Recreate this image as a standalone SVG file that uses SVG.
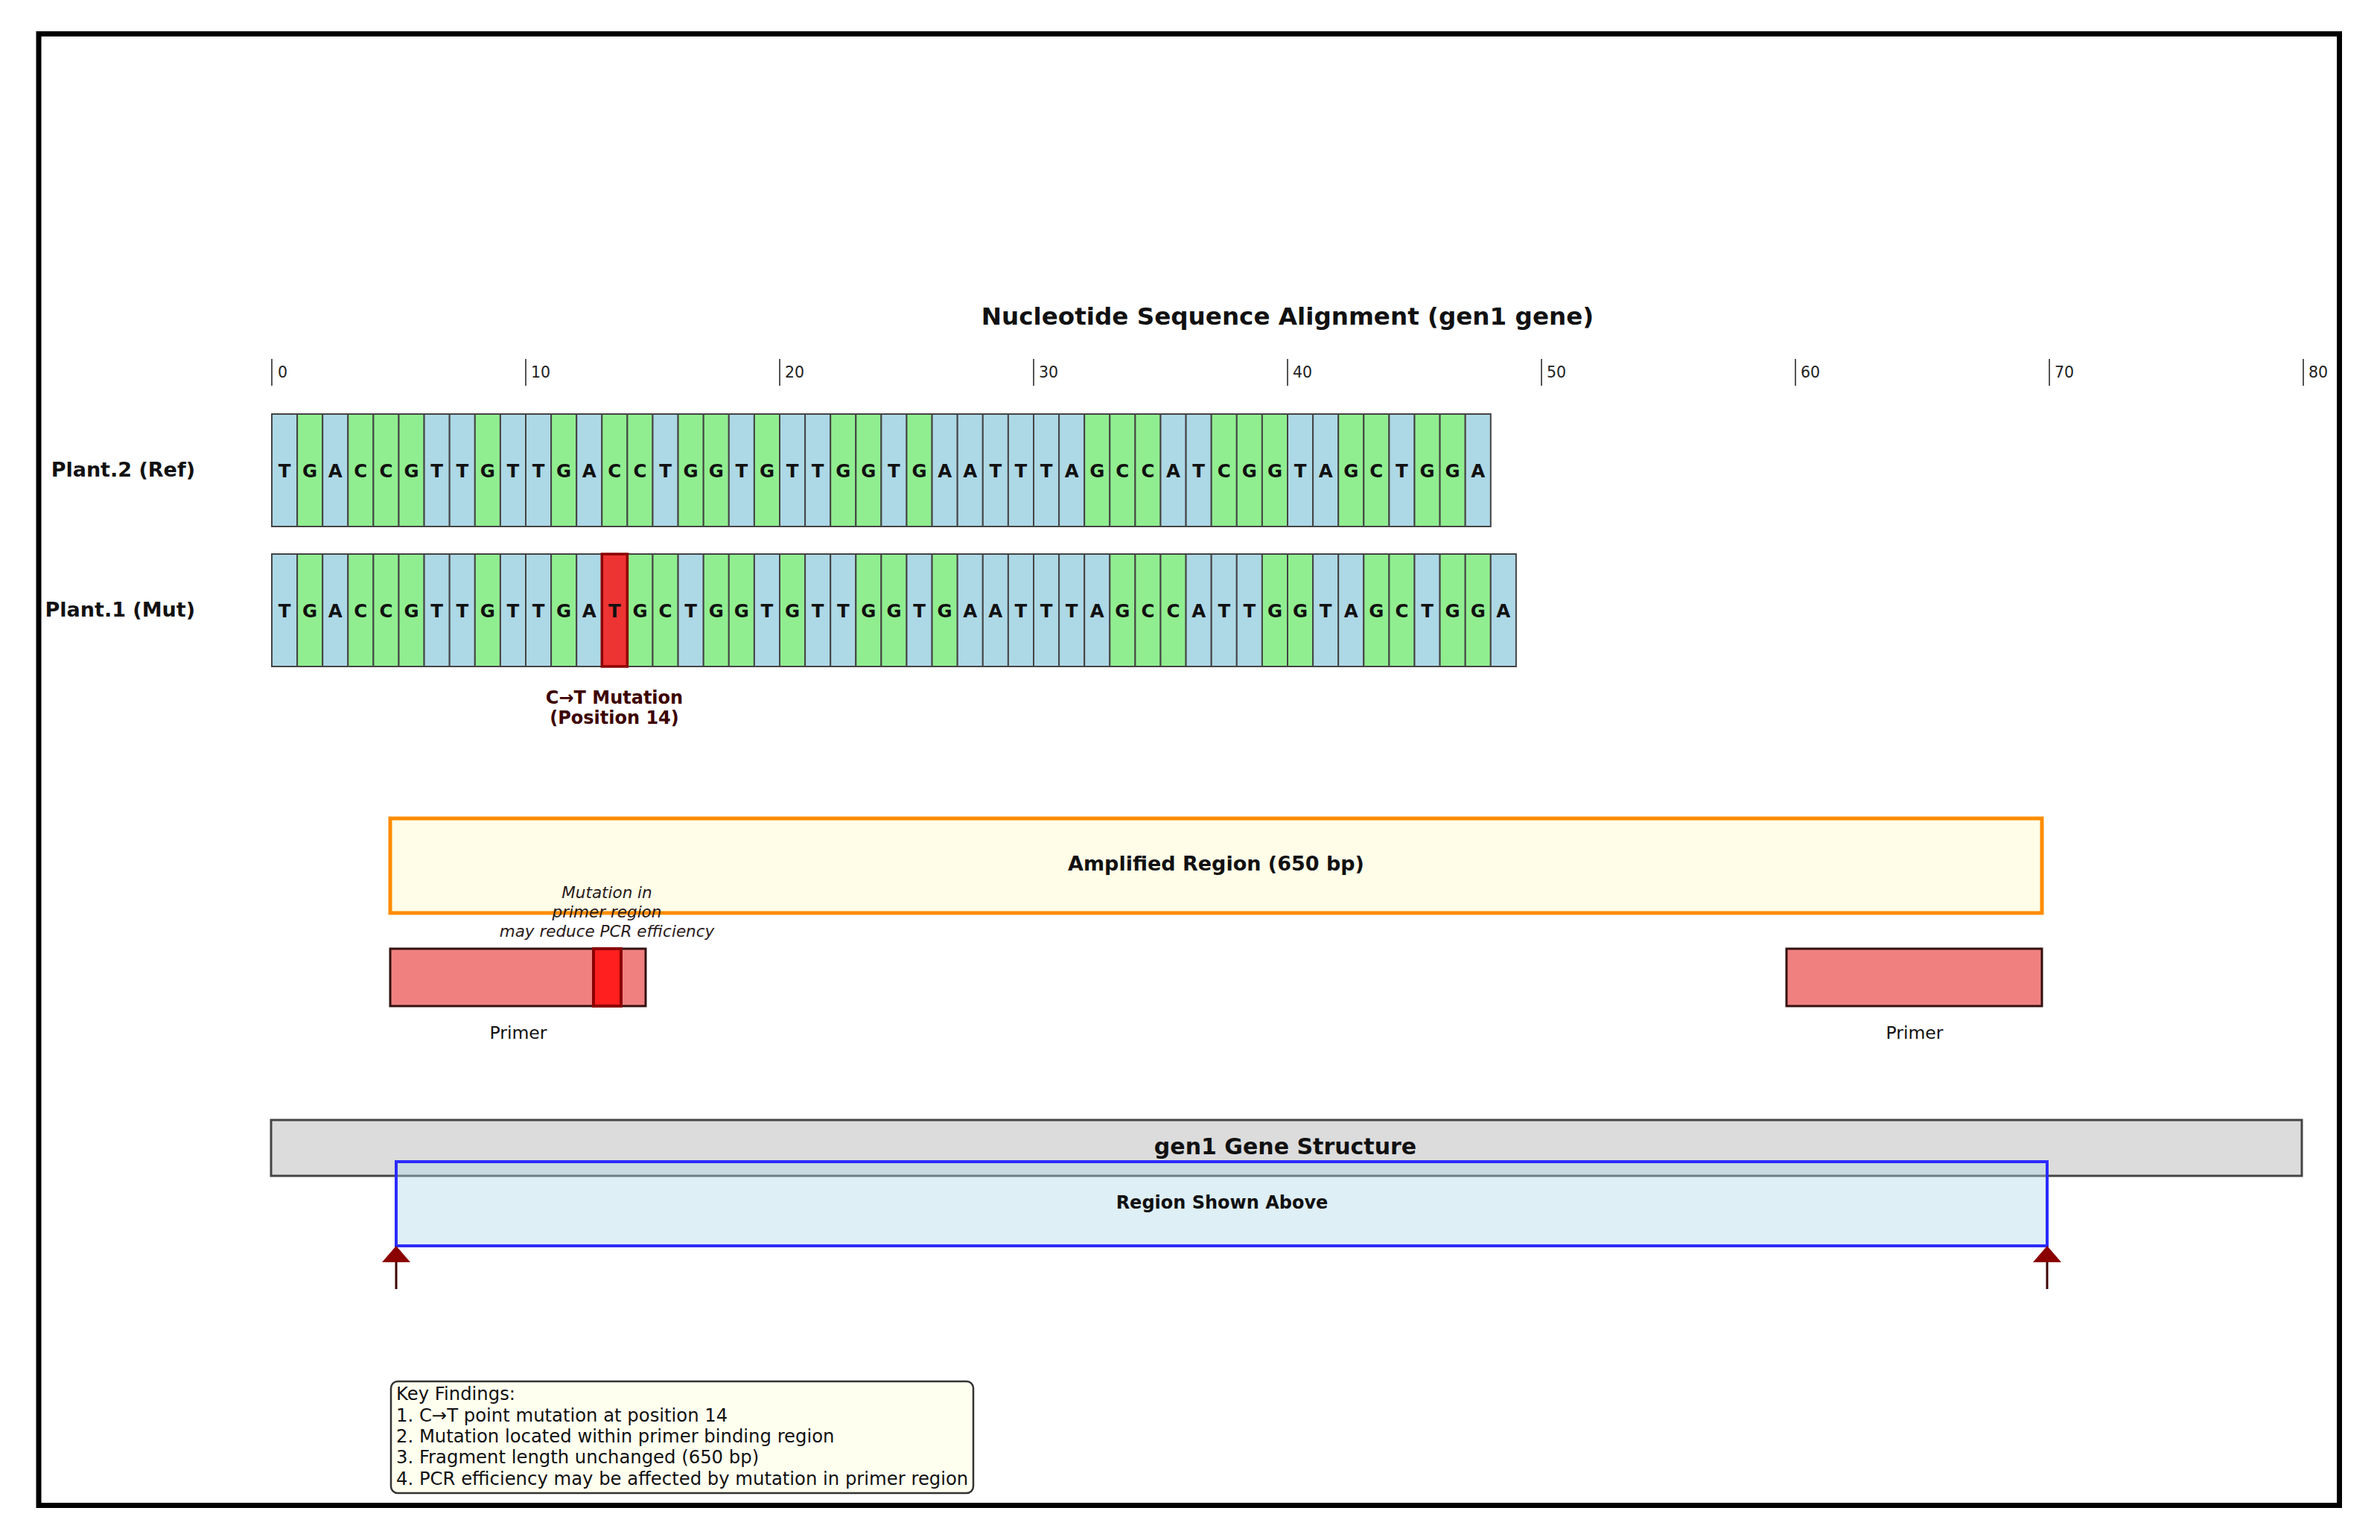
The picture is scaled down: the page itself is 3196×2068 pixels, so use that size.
<svg xmlns="http://www.w3.org/2000/svg" width="3196" height="2068" viewBox="0 0 3196 2068">
<defs>
<style>
text{font-family:"DejaVu Sans","Liberation Sans",sans-serif;fill:#111}
.bd{font-weight:bold}
.b{fill:#add8e6;stroke:#444;stroke-width:2}
.g{fill:#90ee90;stroke:#444;stroke-width:2}
.nt{font-weight:bold;font-size:24.5px;text-anchor:middle}
.tk{stroke:#555;stroke-width:2}
.tl{font-size:20.5px;fill:#222}
.lbl{font-weight:bold;font-size:27px;text-anchor:end}
.primer{fill:#f08080;stroke:#331111;stroke-width:3}
.plab{font-size:23.5px;text-anchor:middle}
.kf{font-size:24.3px}
</style>
<marker id="ah" viewBox="0 0 22 38" refX="0" refY="19" markerWidth="22" markerHeight="38" markerUnits="userSpaceOnUse" orient="auto"><path d="M0,0 L22,19 L0,38 z" fill="#8b0000"/></marker>
</defs>
<rect width="3196" height="2068" fill="#fff"/>
<rect x="52" y="45.5" width="3089.5" height="1976" fill="none" stroke="#000" stroke-width="7"/>

<text x="1729" y="436" class="bd" font-size="32.6" text-anchor="middle">Nucleotide Sequence Alignment (gen1 gene)</text>

<g id="axis">
<line class="tk" x1="365" y1="482" x2="365" y2="518"/><text class="tl" x="373" y="507">0</text>
<line class="tk" x1="706" y1="482" x2="706" y2="518"/><text class="tl" x="713" y="507">10</text>
<line class="tk" x1="1047" y1="482" x2="1047" y2="518"/><text class="tl" x="1054" y="507">20</text>
<line class="tk" x1="1388" y1="482" x2="1388" y2="518"/><text class="tl" x="1395" y="507">30</text>
<line class="tk" x1="1729" y1="482" x2="1729" y2="518"/><text class="tl" x="1736" y="507">40</text>
<line class="tk" x1="2070" y1="482" x2="2070" y2="518"/><text class="tl" x="2077" y="507">50</text>
<line class="tk" x1="2411" y1="482" x2="2411" y2="518"/><text class="tl" x="2418" y="507">60</text>
<line class="tk" x1="2752" y1="482" x2="2752" y2="518"/><text class="tl" x="2759" y="507">70</text>
<line class="tk" x1="3093" y1="482" x2="3093" y2="518"/><text class="tl" x="3100" y="507">80</text>
</g>

<g id="label-ref"><text class="lbl" x="262" y="640">Plant.2 (Ref)</text></g>
<g id="label-mut"><text class="lbl" x="262" y="828">Plant.1 (Mut)</text></g>

<g id="seq-ref" transform="translate(0,556)">
<rect class="b" x="365" width="34.1" height="151"/><text class="nt" x="382.05" y="85">T</text>
<rect class="g" x="399.1" width="34.1" height="151"/><text class="nt" x="416.15" y="85">G</text>
<rect class="b" x="433.2" width="34.1" height="151"/><text class="nt" x="450.25" y="85">A</text>
<rect class="g" x="467.3" width="34.1" height="151"/><text class="nt" x="484.35" y="85">C</text>
<rect class="g" x="501.4" width="34.1" height="151"/><text class="nt" x="518.45" y="85">C</text>
<rect class="g" x="535.5" width="34.1" height="151"/><text class="nt" x="552.55" y="85">G</text>
<rect class="b" x="569.6" width="34.1" height="151"/><text class="nt" x="586.65" y="85">T</text>
<rect class="b" x="603.7" width="34.1" height="151"/><text class="nt" x="620.75" y="85">T</text>
<rect class="g" x="637.8" width="34.1" height="151"/><text class="nt" x="654.85" y="85">G</text>
<rect class="b" x="671.9" width="34.1" height="151"/><text class="nt" x="688.95" y="85">T</text>
<rect class="b" x="706" width="34.1" height="151"/><text class="nt" x="723.05" y="85">T</text>
<rect class="g" x="740.1" width="34.1" height="151"/><text class="nt" x="757.15" y="85">G</text>
<rect class="b" x="774.2" width="34.1" height="151"/><text class="nt" x="791.25" y="85">A</text>
<rect class="g" x="808.3" width="34.1" height="151"/><text class="nt" x="825.35" y="85">C</text>
<rect class="g" x="842.4" width="34.1" height="151"/><text class="nt" x="859.45" y="85">C</text>
<rect class="b" x="876.5" width="34.1" height="151"/><text class="nt" x="893.55" y="85">T</text>
<rect class="g" x="910.6" width="34.1" height="151"/><text class="nt" x="927.65" y="85">G</text>
<rect class="g" x="944.7" width="34.1" height="151"/><text class="nt" x="961.75" y="85">G</text>
<rect class="b" x="978.8" width="34.1" height="151"/><text class="nt" x="995.85" y="85">T</text>
<rect class="g" x="1012.9" width="34.1" height="151"/><text class="nt" x="1029.95" y="85">G</text>
<rect class="b" x="1047" width="34.1" height="151"/><text class="nt" x="1064.05" y="85">T</text>
<rect class="b" x="1081.1" width="34.1" height="151"/><text class="nt" x="1098.15" y="85">T</text>
<rect class="g" x="1115.2" width="34.1" height="151"/><text class="nt" x="1132.25" y="85">G</text>
<rect class="g" x="1149.3" width="34.1" height="151"/><text class="nt" x="1166.35" y="85">G</text>
<rect class="b" x="1183.4" width="34.1" height="151"/><text class="nt" x="1200.45" y="85">T</text>
<rect class="g" x="1217.5" width="34.1" height="151"/><text class="nt" x="1234.55" y="85">G</text>
<rect class="b" x="1251.6" width="34.1" height="151"/><text class="nt" x="1268.65" y="85">A</text>
<rect class="b" x="1285.7" width="34.1" height="151"/><text class="nt" x="1302.75" y="85">A</text>
<rect class="b" x="1319.8" width="34.1" height="151"/><text class="nt" x="1336.85" y="85">T</text>
<rect class="b" x="1353.9" width="34.1" height="151"/><text class="nt" x="1370.95" y="85">T</text>
<rect class="b" x="1388" width="34.1" height="151"/><text class="nt" x="1405.05" y="85">T</text>
<rect class="b" x="1422.1" width="34.1" height="151"/><text class="nt" x="1439.15" y="85">A</text>
<rect class="g" x="1456.2" width="34.1" height="151"/><text class="nt" x="1473.25" y="85">G</text>
<rect class="g" x="1490.3" width="34.1" height="151"/><text class="nt" x="1507.35" y="85">C</text>
<rect class="g" x="1524.4" width="34.1" height="151"/><text class="nt" x="1541.45" y="85">C</text>
<rect class="b" x="1558.5" width="34.1" height="151"/><text class="nt" x="1575.55" y="85">A</text>
<rect class="b" x="1592.6" width="34.1" height="151"/><text class="nt" x="1609.65" y="85">T</text>
<rect class="g" x="1626.7" width="34.1" height="151"/><text class="nt" x="1643.75" y="85">C</text>
<rect class="g" x="1660.8" width="34.1" height="151"/><text class="nt" x="1677.85" y="85">G</text>
<rect class="g" x="1694.9" width="34.1" height="151"/><text class="nt" x="1711.95" y="85">G</text>
<rect class="b" x="1729" width="34.1" height="151"/><text class="nt" x="1746.05" y="85">T</text>
<rect class="b" x="1763.1" width="34.1" height="151"/><text class="nt" x="1780.15" y="85">A</text>
<rect class="g" x="1797.2" width="34.1" height="151"/><text class="nt" x="1814.25" y="85">G</text>
<rect class="g" x="1831.3" width="34.1" height="151"/><text class="nt" x="1848.35" y="85">C</text>
<rect class="b" x="1865.4" width="34.1" height="151"/><text class="nt" x="1882.45" y="85">T</text>
<rect class="g" x="1899.5" width="34.1" height="151"/><text class="nt" x="1916.55" y="85">G</text>
<rect class="g" x="1933.6" width="34.1" height="151"/><text class="nt" x="1950.65" y="85">G</text>
<rect class="b" x="1967.7" width="34.1" height="151"/><text class="nt" x="1984.75" y="85">A</text>
</g>

<g id="seq-mut" transform="translate(0,744)">
<rect class="b" x="365" width="34.1" height="151"/><text class="nt" x="382.05" y="85">T</text>
<rect class="g" x="399.1" width="34.1" height="151"/><text class="nt" x="416.15" y="85">G</text>
<rect class="b" x="433.2" width="34.1" height="151"/><text class="nt" x="450.25" y="85">A</text>
<rect class="g" x="467.3" width="34.1" height="151"/><text class="nt" x="484.35" y="85">C</text>
<rect class="g" x="501.4" width="34.1" height="151"/><text class="nt" x="518.45" y="85">C</text>
<rect class="g" x="535.5" width="34.1" height="151"/><text class="nt" x="552.55" y="85">G</text>
<rect class="b" x="569.6" width="34.1" height="151"/><text class="nt" x="586.65" y="85">T</text>
<rect class="b" x="603.7" width="34.1" height="151"/><text class="nt" x="620.75" y="85">T</text>
<rect class="g" x="637.8" width="34.1" height="151"/><text class="nt" x="654.85" y="85">G</text>
<rect class="b" x="671.9" width="34.1" height="151"/><text class="nt" x="688.95" y="85">T</text>
<rect class="b" x="706" width="34.1" height="151"/><text class="nt" x="723.05" y="85">T</text>
<rect class="g" x="740.1" width="34.1" height="151"/><text class="nt" x="757.15" y="85">G</text>
<rect class="b" x="774.2" width="34.1" height="151"/><text class="nt" x="791.25" y="85">A</text>
<rect class="g" x="842.4" width="34.1" height="151"/><text class="nt" x="859.45" y="85">G</text>
<rect class="g" x="876.5" width="34.1" height="151"/><text class="nt" x="893.55" y="85">C</text>
<rect class="b" x="910.6" width="34.1" height="151"/><text class="nt" x="927.65" y="85">T</text>
<rect class="g" x="944.7" width="34.1" height="151"/><text class="nt" x="961.75" y="85">G</text>
<rect class="g" x="978.8" width="34.1" height="151"/><text class="nt" x="995.85" y="85">G</text>
<rect class="b" x="1012.9" width="34.1" height="151"/><text class="nt" x="1029.95" y="85">T</text>
<rect class="g" x="1047" width="34.1" height="151"/><text class="nt" x="1064.05" y="85">G</text>
<rect class="b" x="1081.1" width="34.1" height="151"/><text class="nt" x="1098.15" y="85">T</text>
<rect class="b" x="1115.2" width="34.1" height="151"/><text class="nt" x="1132.25" y="85">T</text>
<rect class="g" x="1149.3" width="34.1" height="151"/><text class="nt" x="1166.35" y="85">G</text>
<rect class="g" x="1183.4" width="34.1" height="151"/><text class="nt" x="1200.45" y="85">G</text>
<rect class="b" x="1217.5" width="34.1" height="151"/><text class="nt" x="1234.55" y="85">T</text>
<rect class="g" x="1251.6" width="34.1" height="151"/><text class="nt" x="1268.65" y="85">G</text>
<rect class="b" x="1285.7" width="34.1" height="151"/><text class="nt" x="1302.75" y="85">A</text>
<rect class="b" x="1319.8" width="34.1" height="151"/><text class="nt" x="1336.85" y="85">A</text>
<rect class="b" x="1353.9" width="34.1" height="151"/><text class="nt" x="1370.95" y="85">T</text>
<rect class="b" x="1388" width="34.1" height="151"/><text class="nt" x="1405.05" y="85">T</text>
<rect class="b" x="1422.1" width="34.1" height="151"/><text class="nt" x="1439.15" y="85">T</text>
<rect class="b" x="1456.2" width="34.1" height="151"/><text class="nt" x="1473.25" y="85">A</text>
<rect class="g" x="1490.3" width="34.1" height="151"/><text class="nt" x="1507.35" y="85">G</text>
<rect class="g" x="1524.4" width="34.1" height="151"/><text class="nt" x="1541.45" y="85">C</text>
<rect class="g" x="1558.5" width="34.1" height="151"/><text class="nt" x="1575.55" y="85">C</text>
<rect class="b" x="1592.6" width="34.1" height="151"/><text class="nt" x="1609.65" y="85">A</text>
<rect class="b" x="1626.7" width="34.1" height="151"/><text class="nt" x="1643.75" y="85">T</text>
<rect class="b" x="1660.8" width="34.1" height="151"/><text class="nt" x="1677.85" y="85">T</text>
<rect class="g" x="1694.9" width="34.1" height="151"/><text class="nt" x="1711.95" y="85">G</text>
<rect class="g" x="1729" width="34.1" height="151"/><text class="nt" x="1746.05" y="85">G</text>
<rect class="b" x="1763.1" width="34.1" height="151"/><text class="nt" x="1780.15" y="85">T</text>
<rect class="b" x="1797.2" width="34.1" height="151"/><text class="nt" x="1814.25" y="85">A</text>
<rect class="g" x="1831.3" width="34.1" height="151"/><text class="nt" x="1848.35" y="85">G</text>
<rect class="g" x="1865.4" width="34.1" height="151"/><text class="nt" x="1882.45" y="85">C</text>
<rect class="b" x="1899.5" width="34.1" height="151"/><text class="nt" x="1916.55" y="85">T</text>
<rect class="g" x="1933.6" width="34.1" height="151"/><text class="nt" x="1950.65" y="85">G</text>
<rect class="g" x="1967.7" width="34.1" height="151"/><text class="nt" x="1984.75" y="85">G</text>
<rect class="b" x="2001.8" width="34.1" height="151"/><text class="nt" x="2018.85" y="85">A</text>
<rect x="808.3" width="34.1" height="151" fill="#ee3333" stroke="#8b0000" stroke-width="3.5"/><text class="nt" x="825.35" y="85">T</text>
</g>

<g id="mutation-label">
<text class="bd" x="825" y="945" font-size="24" text-anchor="middle" style="fill:#3d0000">C→T Mutation</text>
<text class="bd" x="825" y="972" font-size="24" text-anchor="middle" style="fill:#3d0000">(Position 14)</text>
</g>

<g id="amplified-region">
<rect x="524" y="1099" width="2218" height="127" fill="#fffde8" stroke="#ff8c00" stroke-width="5"/>
<text class="bd" x="1633" y="1169" font-size="27" text-anchor="middle">Amplified Region (650 bp)</text>
</g>

<g id="primer-left">
<rect class="primer" x="524" y="1274" width="343" height="77"/>
<rect x="797" y="1274" width="37" height="77" fill="#ff1f1f" stroke="#8b0000" stroke-width="4"/>
<text class="plab" x="696" y="1395">Primer</text>
</g>

<g id="primer-right">
<rect class="primer" x="2399" y="1274" width="343" height="77"/>
<text class="plab" x="2571" y="1395">Primer</text>
</g>

<g id="primer-note">
<text x="815" y="1206" font-size="21.5" font-style="italic" text-anchor="middle" style="fill:#2a1a1a">Mutation in</text>
<text x="815" y="1232" font-size="21.5" font-style="italic" text-anchor="middle" style="fill:#2a1a1a">primer region</text>
<text x="815" y="1258" font-size="21.5" font-style="italic" text-anchor="middle" style="fill:#2a1a1a">may reduce PCR efficiency</text>
</g>

<g id="gene-structure">
<rect x="364" y="1504" width="2727" height="75" fill="#dcdcdc" stroke="#444" stroke-width="3"/>
<text class="bd" x="1726" y="1550" font-size="30" text-anchor="middle">gen1 Gene Structure</text>
</g>

<g id="region-shown">
<rect x="532" y="1560" width="2217" height="113" fill="#add8e6" fill-opacity="0.4" stroke="#2b2bff" stroke-width="4"/>
<text class="bd" x="1641" y="1623" font-size="24" text-anchor="middle">Region Shown Above</text>
</g>

<g id="connectors">
<line x1="532" y1="1731" x2="532" y2="1695" stroke="#3d0505" stroke-width="3" marker-end="url(#ah)"/>
<line x1="2749" y1="1731" x2="2749" y2="1695" stroke="#3d0505" stroke-width="3" marker-end="url(#ah)"/>
</g>

<g id="key-findings">
<rect x="525" y="1855" width="782" height="150" rx="9" fill="#fffff0" stroke="#333" stroke-width="2.5"/>
<text class="kf" x="532" y="1880">Key Findings:</text>
<text class="kf" x="532" y="1909">1. C→T point mutation at position 14</text>
<text class="kf" x="532" y="1937">2. Mutation located within primer binding region</text>
<text class="kf" x="532" y="1965">3. Fragment length unchanged (650 bp)</text>
<text class="kf" x="532" y="1994">4. PCR efficiency may be affected by mutation in primer region</text>
</g>
</svg>
